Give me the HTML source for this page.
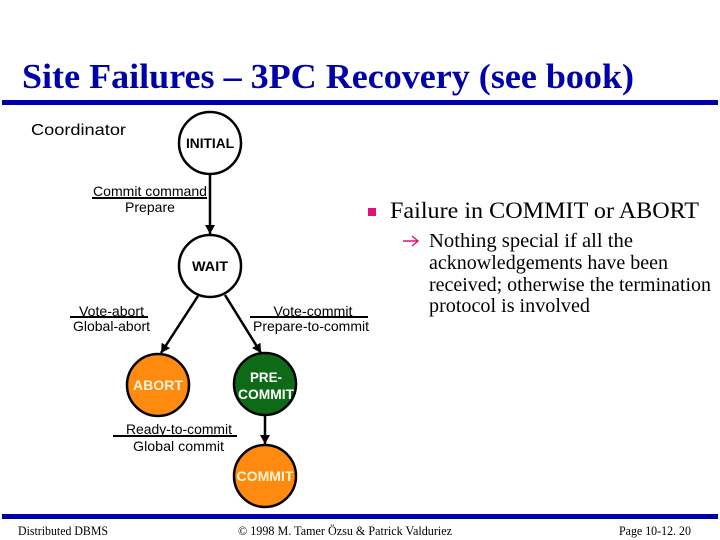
<!DOCTYPE html>
<html>
<head>
<meta charset="utf-8">
<style>
html,body{margin:0;padding:0;background:#fff;}
svg{display:block;}
.s{font-family:"Liberation Sans",sans-serif;fill:#000;}
.r{font-family:"Liberation Serif",serif;fill:#000;}
</style>
</head>
<body>
<svg width="720" height="540" viewBox="0 0 720 540" xmlns="http://www.w3.org/2000/svg">
<defs>
<marker id="a" markerUnits="userSpaceOnUse" markerWidth="12" markerHeight="12" refX="9" refY="5" orient="auto">
<path d="M0,0 L9,5 L0,10 Z" fill="#000"/>
</marker>
</defs>
<rect width="720" height="540" fill="#fff"/>
<text class="r" x="22" y="88" font-size="35" font-weight="bold" style="fill:#0000a8" textLength="612" lengthAdjust="spacingAndGlyphs">Site Failures – 3PC Recovery (see book)</text>
<rect x="2" y="100" width="716" height="5" fill="#0000a8"/>
<rect x="2" y="514" width="716" height="5" fill="#0000a8"/>

<text class="s" x="31" y="135" font-size="16" textLength="95" lengthAdjust="spacingAndGlyphs">Coordinator</text>

<!-- connectors -->
<line x1="210" y1="174" x2="210" y2="234" stroke="#000" stroke-width="2.5" marker-end="url(#a)"/>
<line x1="198" y1="296" x2="161" y2="353" stroke="#000" stroke-width="2.5" marker-end="url(#a)"/>
<line x1="225" y1="295" x2="261" y2="353" stroke="#000" stroke-width="2.5" marker-end="url(#a)"/>
<line x1="265" y1="415" x2="265" y2="444" stroke="#000" stroke-width="2.5" marker-end="url(#a)"/>

<!-- nodes -->
<circle cx="210" cy="143" r="31" fill="#fff" stroke="#000" stroke-width="2.5"/>
<circle cx="210" cy="266" r="31" fill="#fff" stroke="#000" stroke-width="2.5"/>
<circle cx="158" cy="385" r="31" fill="#ff8a10" stroke="#000" stroke-width="2.5"/>
<circle cx="265" cy="384" r="31" fill="#0f6a18" stroke="#000" stroke-width="2.5"/>
<circle cx="265" cy="476" r="31" fill="#ff8a10" stroke="#000" stroke-width="2.5"/>

<!-- node labels -->
<text class="s" x="210" y="148" font-size="14" font-weight="bold" text-anchor="middle" textLength="48" lengthAdjust="spacingAndGlyphs">INITIAL</text>
<text class="s" x="210" y="271" font-size="14" font-weight="bold" text-anchor="middle" textLength="36" lengthAdjust="spacingAndGlyphs">WAIT</text>
<text class="s" x="158" y="390" font-size="14" font-weight="bold" text-anchor="middle" style="fill:#fff4d8" textLength="50" lengthAdjust="spacingAndGlyphs">ABORT</text>
<text class="s" x="266" y="382" font-size="14" font-weight="bold" text-anchor="middle" style="fill:#fff" textLength="32" lengthAdjust="spacingAndGlyphs">PRE-</text>
<text class="s" x="266" y="399" font-size="14" font-weight="bold" text-anchor="middle" style="fill:#fff" textLength="56" lengthAdjust="spacingAndGlyphs">COMMIT</text>
<text class="s" x="265" y="481" font-size="14" font-weight="bold" text-anchor="middle" style="fill:#fff4d8" textLength="57" lengthAdjust="spacingAndGlyphs">COMMIT</text>

<!-- transition labels -->
<text class="s" x="150" y="196" font-size="14" text-anchor="middle" textLength="114" lengthAdjust="spacingAndGlyphs">Commit command</text>
<rect x="92" y="197" width="115" height="2" fill="#000"/>
<text class="s" x="150" y="212" font-size="14" text-anchor="middle" textLength="50" lengthAdjust="spacingAndGlyphs">Prepare</text>

<text class="s" x="111.5" y="316" font-size="14" text-anchor="middle" textLength="65" lengthAdjust="spacingAndGlyphs">Vote-abort</text>
<rect x="70" y="316" width="78" height="2" fill="#000"/>
<text class="s" x="111.5" y="331" font-size="14" text-anchor="middle" textLength="77" lengthAdjust="spacingAndGlyphs">Global-abort</text>

<text class="s" x="313" y="316" font-size="14" text-anchor="middle" textLength="79" lengthAdjust="spacingAndGlyphs">Vote-commit</text>
<rect x="250" y="316" width="118" height="2" fill="#000"/>
<text class="s" x="311" y="331" font-size="14" text-anchor="middle" textLength="116" lengthAdjust="spacingAndGlyphs">Prepare-to-commit</text>

<text class="s" x="179" y="434" font-size="14" text-anchor="middle" textLength="106" lengthAdjust="spacingAndGlyphs">Ready-to-commit</text>
<rect x="113" y="435" width="124" height="2" fill="#000"/>
<text class="s" x="178.5" y="451" font-size="14" text-anchor="middle" textLength="91" lengthAdjust="spacingAndGlyphs">Global commit</text>

<!-- bullets -->
<rect x="368" y="208" width="8" height="8" fill="#e0107a"/>
<text class="r" x="390" y="218" font-size="23" textLength="309" lengthAdjust="spacingAndGlyphs">Failure in COMMIT or ABORT</text>
<path d="M403,241 H418 M412,236 L418,241 L412,246" fill="none" stroke="#e0107a" stroke-width="1.4"/>
<text class="r" x="429" y="247" font-size="19.5" textLength="204" lengthAdjust="spacingAndGlyphs">Nothing special if  all the</text>
<text class="r" x="429" y="269" font-size="19.5" textLength="239" lengthAdjust="spacingAndGlyphs">acknowledgements have been</text>
<text class="r" x="429" y="291" font-size="19.5" textLength="282" lengthAdjust="spacingAndGlyphs">received; otherwise the termination</text>
<text class="r" x="429" y="312" font-size="19.5" textLength="161" lengthAdjust="spacingAndGlyphs">protocol is involved</text>

<!-- footer -->
<text class="r" x="18" y="535" font-size="12.5" textLength="90" lengthAdjust="spacingAndGlyphs">Distributed DBMS</text>
<text class="r" x="238" y="535" font-size="12.5" textLength="214" lengthAdjust="spacingAndGlyphs">© 1998 M. Tamer Özsu &amp; Patrick Valduriez</text>
<text class="r" x="619" y="535" font-size="12.5" textLength="72" lengthAdjust="spacingAndGlyphs">Page 10-12. 20</text>
</svg>
</body>
</html>
